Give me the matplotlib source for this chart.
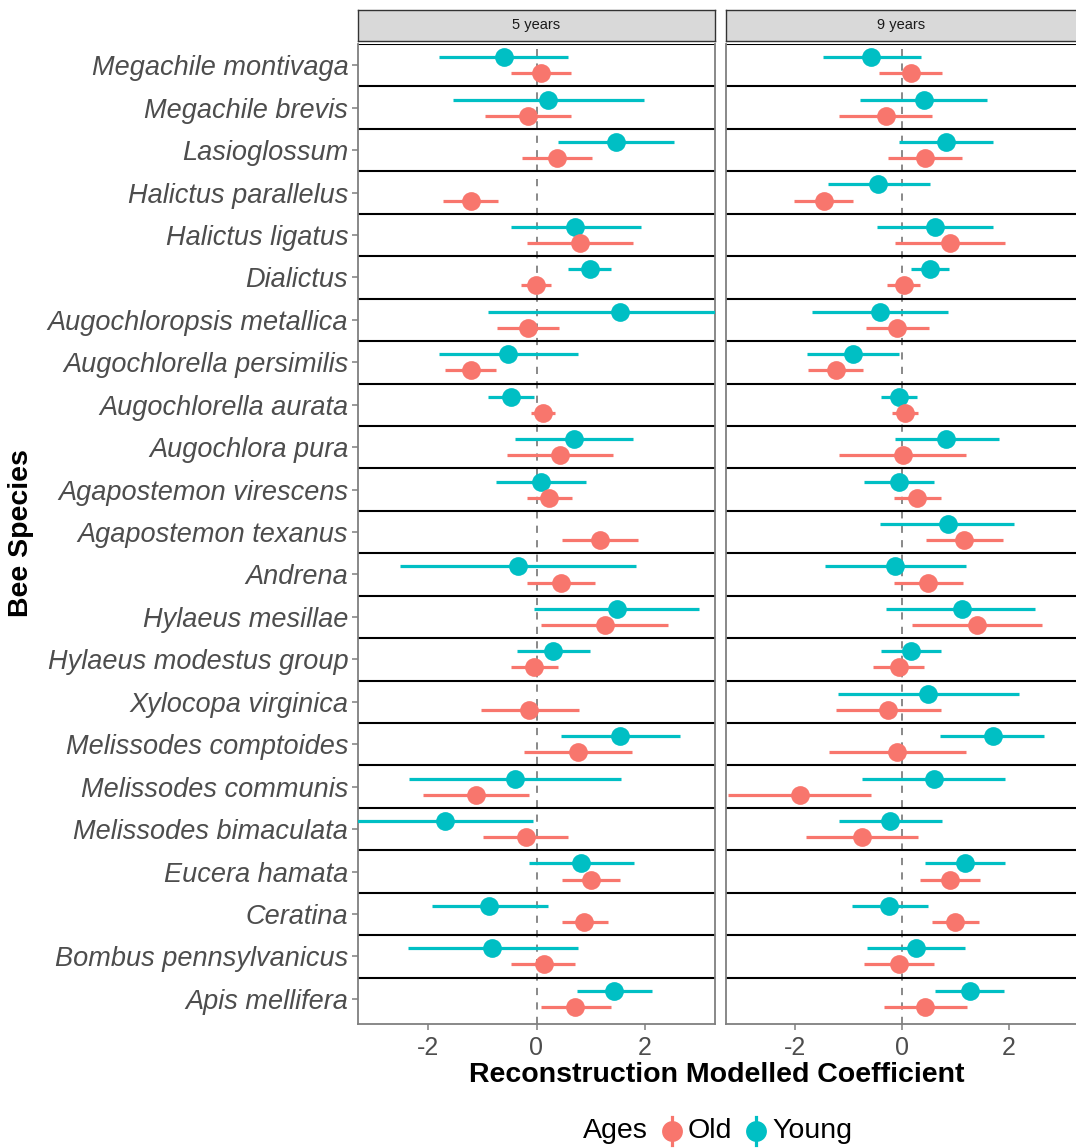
import numpy as np
import matplotlib
matplotlib.use("Agg")
import matplotlib.pyplot as plt

plt.rcParams['font.family'] = ['Liberation Sans', 'DejaVu Sans']

species = [
    "Megachile montivaga", "Megachile brevis", "Lasioglossum",
    "Halictus parallelus", "Halictus ligatus", "Dialictus",
    "Augochloropsis metallica", "Augochlorella persimilis",
    "Augochlorella aurata", "Augochlora pura", "Agapostemon virescens",
    "Agapostemon texanus", "Andrena", "Hylaeus mesillae",
    "Hylaeus modestus group", "Xylocopa virginica", "Melissodes comptoides",
    "Melissodes communis", "Melissodes bimaculata", "Eucera hamata",
    "Ceratina", "Bombus pennsylvanicus", "Apis mellifera",
]
nan = np.nan

# ---- 5 years ----
old5 = [0.09, -0.15, 0.38, -1.22, 0.81, -0.01, -0.16, -1.22, 0.12, 0.43, 0.24,
        1.17, 0.45, 1.26, -0.04, -0.13, 0.76, -1.12, -0.20, 1.00, 0.88, 0.13, 0.71]
old5_lo = [-0.48, -0.95, -0.26, -1.73, -0.17, -0.28, -0.73, -1.69, -0.10, -0.54, -0.17,
           0.48, -0.18, 0.08, -0.47, -1.03, -0.23, -2.10, -0.98, 0.48, 0.47, -0.47, 0.08]
old5_hi = [0.64, 0.64, 1.03, -0.72, 1.78, 0.26, 0.42, -0.74, 0.34, 1.41, 0.66,
           1.87, 1.09, 2.44, 0.39, 0.79, 1.76, -0.13, 0.59, 1.54, 1.32, 0.72, 1.38]
young5 = [-0.61, 0.21, 1.47, nan, 0.71, 0.98, 1.55, -0.52, -0.48, 0.69, 0.09,
          nan, -0.34, 1.49, 0.31, nan, 1.55, -0.39, -1.69, 0.83, -0.87, -0.82, 1.44]
young5_lo = [-1.80, -1.55, 0.40, nan, -0.48, 0.58, -0.90, -1.80, -0.90, -0.40, -0.74,
             nan, -2.52, -0.04, -0.36, nan, 0.46, -2.35, -3.50, -0.13, -1.94, -2.38, 0.75]
young5_hi = [0.58, 1.98, 2.54, nan, 1.93, 1.38, 3.50, 0.77, -0.04, 1.78, 0.92,
             nan, 1.84, 3.00, 0.98, nan, 2.65, 1.56, -0.06, 1.80, 0.21, 0.76, 2.14]

# ---- 9 years ----
old9 = [0.17, -0.30, 0.43, -1.46, 0.91, 0.04, -0.09, -1.24, 0.07, 0.02, 0.29,
        1.17, 0.50, 1.41, -0.06, -0.25, -0.08, -1.91, -0.75, 0.90, 0.99, -0.05, 0.44]
old9_lo = [-0.42, -1.17, -0.26, -2.01, -0.13, -0.28, -0.67, -1.75, -0.18, -1.17, -0.14,
           0.46, -0.15, 0.20, -0.53, -1.23, -1.36, -3.25, -1.79, 0.35, 0.56, -0.70, -0.33]
old9_hi = [0.76, 0.57, 1.12, -0.91, 1.94, 0.35, 0.51, -0.72, 0.31, 1.20, 0.73,
           1.89, 1.15, 2.62, 0.41, 0.73, 1.20, -0.57, 0.30, 1.47, 1.44, 0.60, 1.23]
young9 = [-0.57, 0.41, 0.83, -0.44, 0.62, 0.52, -0.40, -0.91, -0.05, 0.83, -0.05,
          0.86, -0.12, 1.12, 0.17, 0.49, 1.70, 0.60, -0.22, 1.18, -0.23, 0.26, 1.27]
young9_lo = [-1.47, -0.78, -0.05, -1.39, -0.47, 0.17, -1.68, -1.77, -0.38, -0.13, -0.70,
             -0.40, -1.44, -0.29, -0.39, -1.20, 0.72, -0.74, -1.18, 0.44, -0.94, -0.65, 0.62]
young9_hi = [0.36, 1.60, 1.71, 0.52, 1.71, 0.89, 0.87, -0.06, 0.28, 1.82, 0.60,
             2.11, 1.20, 2.49, 0.73, 2.19, 2.67, 1.94, 0.75, 1.94, 0.49, 1.18, 1.91]

panels = [
    ("5 years", old5, old5_lo, old5_hi, young5, young5_lo, young5_hi),
    ("9 years", old9, old9_lo, old9_hi, young9, young9_lo, young9_hi),
]
x_ticks = [-2, 0, 2]
x_lim = (-3.3, 3.3)

OLD_COL = "#F8766D"
YOUNG_COL = "#00BFC4"
AXIS_GREY = "#7F7F7F"
TEXT_GREY = "#4D4D4D"

W, H = 1076, 1148
fig = plt.figure(figsize=(W / 100, H / 100), dpi=100)

def fx(px):
    return px / W

def fy(px):
    return 1 - px / H

n = len(species)
rows = np.arange(n)
dodge = 0.19

panel_x = [(358, 715), (725.5, 1078)]
top_px, bot_px = 44, 1023.7
strip_top, strip_bot = 9.7, 40.5

for i, (title, o, olo, ohi, yv, ylo, yhi) in enumerate(panels):
    x0, x1 = panel_x[i]
    ax = fig.add_axes([fx(x0), fy(bot_px), fx(x1 - x0), (bot_px - top_px) / H])
    ax.set_xlim(*x_lim)
    ax.set_ylim(n - 0.5 + 0.085, -0.5)

    ax.axvline(0, color="#808080", lw=1.3, ls=(0, (4, 4)), zorder=1)
    for b in np.arange(-0.5, n - 0.5, 1.0):
        ax.axhline(b, color="black", lw=1.5, zorder=2)

    yv = np.array(yv, float)
    o = np.array(o, float)
    ax.hlines(rows - dodge, ylo, yhi, color=YOUNG_COL, lw=2.3, zorder=3)
    ax.plot(yv, rows - dodge, "o", color=YOUNG_COL, ms=13.5, mew=0, zorder=4)
    ax.hlines(rows + dodge, olo, ohi, color=OLD_COL, lw=2.3, zorder=3)
    ax.plot(o, rows + dodge, "o", color=OLD_COL, ms=13.5, mew=0, zorder=4)

    ax.set_xticks(x_ticks)
    ax.set_xticklabels([str(t) for t in x_ticks], fontsize=18, color=TEXT_GREY)
    ax.tick_params(axis="x", color=AXIS_GREY, width=1.1, length=4.5, pad=4)
    ax.set_yticks(rows)
    if i == 0:
        ax.set_yticklabels(species, fontsize=19.5, style="italic", color=TEXT_GREY)
        ax.tick_params(axis="y", color=AXIS_GREY, width=1.1, length=4, pad=3)
    else:
        ax.set_yticklabels([])
        ax.tick_params(axis="y", length=0)
    ax.spines["top"].set_visible(False)
    for s in ("left", "right", "bottom"):
        ax.spines[s].set_color(AXIS_GREY)
        ax.spines[s].set_linewidth(1.3)

    sax = fig.add_axes([fx(x0), fy(strip_bot), fx(x1 - x0), (strip_bot - strip_top) / H])
    sax.set_facecolor("#D9D9D9")
    sax.set_xticks([])
    sax.set_yticks([])
    for s in sax.spines.values():
        s.set_color("#333333")
        s.set_linewidth(1.0)
    sax.text(0.5 if i == 0 else (1076 - 725.5) / 2 / (x1 - x0), 0.5, title,
             ha="center", va="center", fontsize=10.5, color="#1A1A1A",
             transform=sax.transAxes)

fig.text(fx(717), fy(1075), "Reconstruction Modelled Coefficient",
         ha="center", va="center", fontsize=20.5, fontweight="bold")
fig.text(fx(21), fy(533), "Bee Species", rotation=90,
         ha="center", va="center", fontsize=20.5, fontweight="bold")

# legend along the bottom
lax = fig.add_axes([0, 0, 1, 1], facecolor="none")
lax.set_xlim(0, W)
lax.set_ylim(H, 0)
lax.axis("off")
ly = 1131
lax.text(583, ly, "Ages", ha="left", va="center", fontsize=20.5)
for kx, col, lab in [(672, OLD_COL, "Old"), (756, YOUNG_COL, "Young")]:
    lax.plot([kx, kx], [ly - 14, ly + 14], color=col, lw=2.3)
    lax.plot([kx], [ly], "o", color=col, ms=15, mew=0)
    lax.text(kx + 16, ly, lab, ha="left", va="center", fontsize=20.5)

fig.savefig("out.png", dpi=100, facecolor="white")
